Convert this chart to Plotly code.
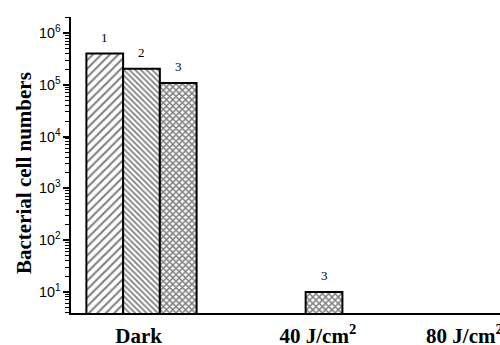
import math
import plotly.graph_objects as go

categories = ["Dark", "40 J/cm<sup>2</sup>", "80 J/cm<sup>2</sup>"]
series_names = ["1", "2", "3"]
series1 = [4.0e5, None, None]
series2 = [2.05e5, None, None]
series3 = [1.08e5, 10, None]
ytick_text = ["10<sup>1</sup>", "10<sup>2</sup>", "10<sup>3</sup>",
              "10<sup>4</sup>", "10<sup>5</sup>", "10<sup>6</sup>"]
y_title = "Bacterial cell numbers"

xpos = list(range(len(categories)))
all_series = [series1, series2, series3]
patterns = [dict(shape="/", size=6, solidity=0.35),
            dict(shape="\\", size=4, solidity=0.45),
            dict(shape="x", size=4.5, solidity=0.55)]
bargap = 0.244
bar_w = (1 - bargap) / len(all_series)
yrange = [0.594, 6.309]

fig = go.Figure()
for k, (name, vals, pat) in enumerate(zip(series_names, all_series, patterns)):
    fig.add_trace(go.Bar(
        x=xpos, y=vals, name=name,
        marker=dict(color="white", line=dict(color="black", width=2),
                    pattern=dict(fgcolor="black", bgcolor="white", fillmode="overlay", **pat)),
    ))
    off = (k - (len(all_series) - 1) / 2) * bar_w
    for x, v in zip(xpos, vals):
        if v is None:
            continue
        fig.add_annotation(
            x=x + off, y=math.log10(v), xref="x", yref="y",
            text=name, showarrow=False, yanchor="bottom", yshift=7,
            font=dict(family="Liberation Serif", size=13, color="black"),
        )

fig.add_annotation(
    text=y_title, xref="paper", yref="paper", x=-0.1096, y=0.473,
    xanchor="center", yanchor="middle", textangle=-90, showarrow=False,
    font=dict(family="Liberation Serif", size=21, color="black", weight="bold"),
)

fig.update_layout(
    width=500, height=345,
    margin=dict(l=71, r=0, t=17, b=32),
    paper_bgcolor="white", plot_bgcolor="white",
    barmode="group", bargap=bargap, bargroupgap=0,
    showlegend=False,
    xaxis=dict(
        type="linear", range=[-0.4835, 2.459],
        tickvals=[-0.02, 1.21, 2.215], ticktext=categories,
        ticks="", showgrid=False, zeroline=False,
        showline=True, linecolor="black", linewidth=1.5,
        tickfont=dict(family="Liberation Serif", size=21, color="black", weight="bold"),
        ticklabelstandoff=3, ticklabeloverflow="allow", automargin=False,
    ),
    yaxis=dict(
        type="log", range=yrange,
        tickmode="linear", tick0=0, dtick=1,
        exponentformat="power", showexponent="all",
        labelalias={"10": ytick_text[0]},
        ticks="outside", ticklen=6, tickwidth=1.5, tickcolor="black",
        minor=dict(ticks="outside", ticklen=4, tickwidth=1.3, tickcolor="black",
                   dtick="D1", showgrid=False),
        showgrid=False, zeroline=False,
        showline=True, linecolor="black", linewidth=2,
        tickfont=dict(family="Liberation Sans", size=11.5, color="black"),
        automargin=False,
    ),
)

fig.write_html("out.html")
